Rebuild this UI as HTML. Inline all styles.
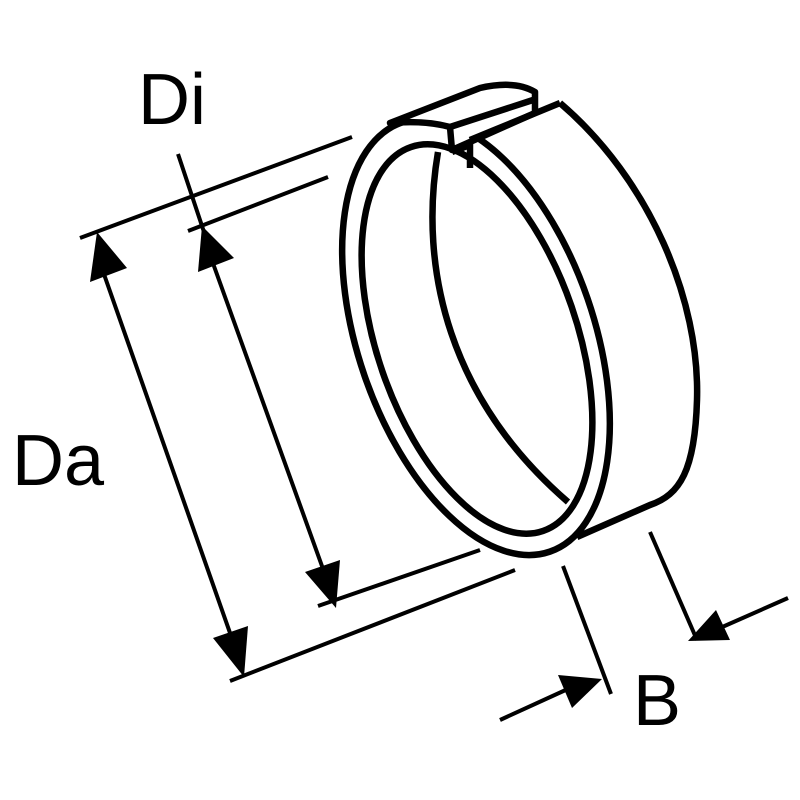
<!DOCTYPE html>
<html><head><meta charset="utf-8"><style>html,body{margin:0;padding:0;background:#fff}svg{display:block}</style></head>
<body>
<svg width="800" height="800" viewBox="0 0 800 800" xmlns="http://www.w3.org/2000/svg">
<g fill="none" stroke="#000" stroke-linecap="butt" stroke-linejoin="round">
<!-- ring -->
<g stroke-width="6.5">
<path d="M560,103 C650,180 700,300 697,400 C695,470 680,495 650,505 L577,537"/>
<ellipse cx="476" cy="337" rx="118" ry="227" transform="rotate(-19 476 337)" fill="#fff"/>
<ellipse cx="477" cy="339" rx="100" ry="203" transform="rotate(-19 477 339)"/>
<path d="M438,152 C418,270 450,400 568,502"/>
<path d="M390,123 L480,88 Q515,80 535,92 L535,113 L452,150 L450,127 Q425,120 390,123 Z" fill="#fff"/>
<path d="M450,127 L533,100"/>
<path d="M452,152 L470,145"/>
<path d="M470,140 L560,103"/>
<path d="M470,140 L470,168"/>
</g>
<!-- dimension lines -->
<g stroke-width="4">
<line x1="80" y1="238" x2="352" y2="137"/>
<line x1="188" y1="231" x2="328" y2="177"/>
<line x1="178" y1="154" x2="204" y2="232"/>
<line x1="99" y1="260" x2="236" y2="650"/>
<line x1="210" y1="255" x2="327" y2="580"/>
<line x1="318" y1="606" x2="480" y2="550"/>
<line x1="230" y1="681" x2="515" y2="570"/>
<line x1="563" y1="566" x2="611" y2="694"/>
<line x1="650" y1="532" x2="697" y2="640"/>
<line x1="500" y1="720" x2="570" y2="688"/>
<line x1="788" y1="598" x2="720" y2="628"/>
</g>
</g>
<g fill="#000">
<polygon points="97,232 90,282 127,268"/>
<polygon points="202,226 198,272 234,258"/>
<polygon points="336,608 305,572 340,560"/>
<polygon points="244,677 213,638 248,626"/>
<polygon points="602,679 558,675 572,708"/>
<polygon points="688,641 716,610 730,640"/>
</g>
<g font-family="Liberation Sans, DejaVu Sans, sans-serif" font-size="72" fill="#000">
<text x="138" y="124">Di</text>
<text x="12" y="485">Da</text>
<text x="633" y="725">B</text>
</g>
</svg>
</body></html>
